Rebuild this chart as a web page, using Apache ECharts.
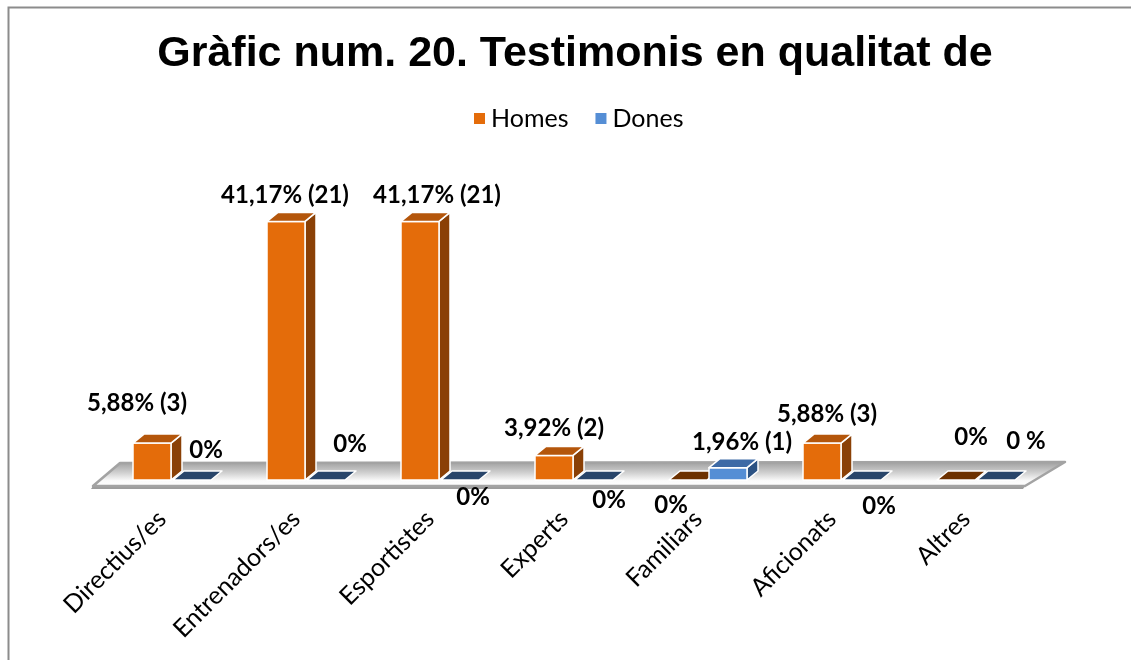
<!DOCTYPE html>
<html>
<head>
<meta charset="utf-8">
<script src="https://cdn.jsdelivr.net/npm/echarts@6/dist/echarts.min.js"></script>
<style>
html,body{margin:0;padding:0;background:#fff;}
#chart{width:1131px;height:660px;}
</style>
</head>
<body>
<div id="chart"></div>
<script>
// ---- data ----
const categories = ['Directius/es', 'Entrenadors/es', 'Esportistes', 'Experts', 'Familiars', 'Aficionats', 'Altres'];
const homesPct = [5.88, 41.17, 41.17, 3.92, 0, 5.88, 0];
const donesPct = [0, 0, 0, 0, 1.96, 0, 0];
const homesLabels = ['5,88% (3)', '41,17% (21)', '41,17% (21)', '3,92% (2)', '0%', '5,88% (3)', '0%'];
const donesLabels = ['0%', '0%', '0%', '0%', '1,96% (1)', '0%', '0 %'];

// ---- layout config (label placement as in the original) ----
const homesLabelOffsets = [[-15, -40], [-1, -26], [17, -26], [0, -27], [-17, 25], [5, -29], [15, -43]];
const donesLabelOffsets = [[14, -30], [24, -36], [13, 17], [15, 20], [14, -25], [17, 26], [30, -39]];

const BAR_W = 38, DX = 11, DY = -9;
const palette = {
  homes: { front: '#e46c0a', top: '#b4560b', side: '#8a4006', zero: '#6d3100' },
  dones: { front: '#558ed5', top: '#3d6aa6', side: '#2c5283', zero: '#28456a' }
};

function makeBar(offsetX, pal, labels, offsets) {
  return function (params, api) {
    const i = api.value(0), v = api.value(1);
    const base = api.coord([i, 0]);
    const top = api.coord([i, v]);
    const x0 = base[0] + offsetX;
    const x1 = x0 + BAR_W;
    const yb = base[1], yt = top[1];
    const edge = { stroke: '#ffffff', lineWidth: 1.5, lineJoin: 'round' };
    const children = [];
    if (v > 0) {
      children.push({ type: 'polygon', shape: { points: [[x1, yt], [x1 + DX, yt + DY], [x1 + DX, yb + DY], [x1, yb]] }, style: Object.assign({ fill: pal.side }, edge) });
      children.push({ type: 'rect', shape: { x: x0, y: yt, width: BAR_W, height: yb - yt }, style: Object.assign({ fill: pal.front }, edge) });
      children.push({ type: 'polygon', shape: { points: [[x0, yt], [x0 + DX, yt + DY], [x1 + DX, yt + DY], [x1, yt]] }, style: Object.assign({ fill: pal.top }, edge) });
    } else {
      children.push({ type: 'polygon', shape: { points: [[x0, yb], [x0 + DX, yb + DY], [x1 + DX, yb + DY], [x1, yb]] }, style: Object.assign({ fill: pal.zero }, edge) });
    }
    const off = offsets[i];
    children.push({
      type: 'text',
      style: {
        text: labels[i], x: (x0 + x1) / 2 + off[0], y: yt + off[1],
        align: 'center', verticalAlign: 'middle',
        font: 'bold 24px Lato', fill: '#000000'
      }
    });
    return { type: 'group', children: children };
  };
}

function renderFloor(params, api) {
  const cs = params.coordSys;
  const base = cs.y + cs.height;
  const L = cs.x, R = cs.x + cs.width;
  const topFace = [[L + 25, base - 17], [R + 32, base - 18], [R - 8, base + 6], [L - 2, base + 6]];
  return {
    type: 'group',
    children: [
      { type: 'polygon', shape: { points: [[L - 2, base + 6], [R - 8, base + 6], [R - 10, base + 9], [L - 4, base + 9]] }, style: { fill: '#9c9c9c' } },
      {
        type: 'polygon', shape: { points: topFace },
        style: {
          fill: { type: 'linear', x: 0, y: 0, x2: 0, y2: 1, colorStops: [
            { offset: 0, color: '#999999' }, { offset: 0.45, color: '#d0d0d0' }, { offset: 0.75, color: '#fafafa' }, { offset: 1, color: '#ffffff' }] },
          stroke: '#a3a3a3', lineWidth: 2.5, lineJoin: 'round'
        }
      }
    ]
  };
}

const chart = echarts.init(document.getElementById('chart'), null, { renderer: 'canvas' });
chart.setOption({
  animation: false,
  backgroundColor: '#ffffff',
  title: {
    text: 'Gràfic num. 20. Testimonis en qualitat de',
    left: 570, top: 28, textAlign: 'center',
    textStyle: { fontFamily: 'Liberation Sans', fontWeight: 'bold', fontSize: 43, color: '#000000' }
  },
  legend: {
    data: ['Homes', 'Dones'],
    left: 474, top: 106, padding: 0,
    icon: 'rect', itemWidth: 11, itemHeight: 11, itemGap: 27,
    textStyle: { fontFamily: 'Lato', fontSize: 25, color: '#000000', padding: [0, 0, 0, 1] }
  },
  graphic: [{
    type: 'rect', left: 6, top: 5, silent: true,
    shape: { x: 0, y: 0, width: 1140, height: 670 },
    style: { fill: 'none', stroke: '#8c8c8c', lineWidth: 2 }
  }],
  grid: { left: 95, right: 98, top: 166, bottom: 180 },
  xAxis: {
    type: 'category', data: categories,
    axisLine: { show: false }, axisTick: { show: false },
    axisLabel: { rotate: 45, margin: 35, interval: 0, fontFamily: 'Lato', fontSize: 25, color: '#000000' }
  },
  yAxis: { type: 'value', min: 0, max: 50, show: false, splitLine: { show: false } },
  series: [
    { type: 'custom', name: 'floor', renderItem: renderFloor, data: [[0, 0]], silent: true, z: 1 },
    {
      type: 'custom', name: 'Homes', itemStyle: { color: palette.homes.front }, z: 2,
      renderItem: makeBar(-29, palette.homes, homesLabels, homesLabelOffsets),
      encode: { x: 0, y: 1 },
      data: homesPct.map((v, i) => [i, v])
    },
    {
      type: 'custom', name: 'Dones', itemStyle: { color: palette.dones.front }, z: 3,
      renderItem: makeBar(11, palette.dones, donesLabels, donesLabelOffsets),
      encode: { x: 0, y: 1 },
      data: donesPct.map((v, i) => [i, v])
    }
  ]
});
</script>
</body>
</html>
